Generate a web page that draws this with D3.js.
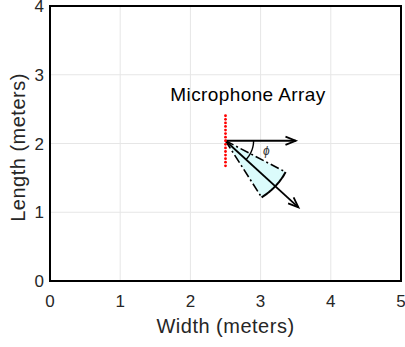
<!DOCTYPE html>
<html>
<head>
<meta charset="utf-8">
<script src="https://cdn.jsdelivr.net/npm/d3@7"></script>
<style>
  body { margin: 0; background: #fff; }
  text { font-family: "Liberation Sans", Arial, Helvetica, sans-serif; }
</style>
</head>
<body>
<svg id="chart" width="405" height="347"></svg>
<script>
// room / array data (meters, degrees)
var xTicks = [0, 1, 2, 3, 4, 5];
var yTicks = [0, 1, 2, 3, 4];
var arrayCenter = [2.5, 2.04];
var micCount = 15;
var micSpacing = 0.052;
var steerAngle = -43;     // degrees
var beamHalfWidth = 15;   // degrees
var beamRadius = 0.97;
var refArrowLength = 1.0;
var steerArrowLength = 1.42;
var phiArcRadius = 0.4;
var labelText = "Microphone Array";
var labelPos = [2.82, 2.62];

var svg = d3.select('#chart'),
    margin = {left: 50, right: 4, top: 6, bottom: 66},
    width = 405 - margin.left - margin.right,
    height = 347 - margin.top - margin.bottom;

var x = d3.scaleLinear().domain([0, 5]).range([0, width]);
var y = d3.scaleLinear().domain([0, 4]).range([height, 0]);

var main = svg.append('g')
    .attr('transform', 'translate(' + margin.left + ',' + margin.top + ')');

// grid
main.append('g').selectAll('line').data(xTicks.slice(1, -1)).enter().append('line')
    .attr('x1', x).attr('x2', x).attr('y1', 0).attr('y2', height)
    .attr('stroke', '#e6e6e6').attr('stroke-width', 1);
main.append('g').selectAll('line').data(yTicks.slice(1, -1)).enter().append('line')
    .attr('y1', y).attr('y2', y).attr('x1', 0).attr('x2', width)
    .attr('stroke', '#e6e6e6').attr('stroke-width', 1);

// tick labels
main.append('g').selectAll('text').data(xTicks).enter().append('text')
    .attr('x', x).attr('y', height + 26)
    .attr('text-anchor', 'middle')
    .attr('font-size', 17).attr('fill', '#262626')
    .text(function (d) { return d; });
main.append('g').selectAll('text').data(yTicks).enter().append('text')
    .attr('x', -6).attr('y', function (d) { return y(d) + 6; })
    .attr('text-anchor', 'end')
    .attr('font-size', 17).attr('fill', '#262626')
    .text(function (d) { return d; });

// axis labels
main.append('text')
    .attr('x', width / 2).attr('y', height + 52)
    .attr('text-anchor', 'middle').attr('font-size', 20).attr('fill', '#262626')
    .attr('letter-spacing', 0.5)
    .text('Width (meters)');
main.append('text')
    .attr('transform', 'translate(-25,' + (height / 2 + 4) + ') rotate(-90)')
    .attr('text-anchor', 'middle').attr('font-size', 20).attr('fill', '#262626')
    .attr('letter-spacing', 0.5)
    .text('Length (meters)');

// helpers
function polar(r, deg) {
    var a = deg * Math.PI / 180;
    return [arrayCenter[0] + r * Math.cos(a), arrayCenter[1] + r * Math.sin(a)];
}
var line = d3.line().x(function (d) { return x(d[0]); }).y(function (d) { return y(d[1]); });

function arcPoints(r, a0, a1) {
    return d3.range(0, 41).map(function (i) { return polar(r, a0 + (a1 - a0) * i / 40); });
}

function arrow(tip, from) {
    var px = x(tip[0]), py = y(tip[1]),
        ang = Math.atan2(py - y(from[1]), px - x(from[0])),
        len = 11, spread = 0.38;
    return 'M' + (px - len * Math.cos(ang - spread)) + ',' + (py - len * Math.sin(ang - spread)) +
        'L' + px + ',' + py +
        'L' + (px - len * Math.cos(ang + spread)) + ',' + (py - len * Math.sin(ang + spread));
}

// beam cone
var a0 = steerAngle - beamHalfWidth, a1 = steerAngle + beamHalfWidth;
var cone = [arrayCenter].concat(arcPoints(beamRadius, a0, a1)).concat([arrayCenter]);
main.append('path').attr('d', line(cone) + 'Z')
    .attr('fill', '#dbfbfb').attr('stroke', 'none');
[a0, a1].forEach(function (a) {
    main.append('path').attr('d', line([arrayCenter, polar(beamRadius, a)]))
        .attr('stroke', '#000').attr('stroke-width', 1.6)
        .attr('stroke-dasharray', '9,3,2,3').attr('fill', 'none');
});
main.append('path').attr('d', line(arcPoints(beamRadius, a0, a1)))
    .attr('stroke', '#000').attr('stroke-width', 2).attr('fill', 'none');

// reference (broadside) arrow
var refTip = polar(refArrowLength, 0);
main.append('path').attr('d', line([arrayCenter, refTip]))
    .attr('stroke', '#000').attr('stroke-width', 1.8).attr('fill', 'none');
main.append('path').attr('d', arrow(refTip, arrayCenter))
    .attr('stroke', '#000').attr('stroke-width', 1.8).attr('fill', 'none');

// steering arrow
var steerTip = polar(steerArrowLength, steerAngle);
main.append('path').attr('d', line([arrayCenter, steerTip]))
    .attr('stroke', '#000').attr('stroke-width', 1.8).attr('fill', 'none');
main.append('path').attr('d', arrow(steerTip, arrayCenter))
    .attr('stroke', '#000').attr('stroke-width', 1.8).attr('fill', 'none');

// phi arc + label
main.append('path').attr('d', line(arcPoints(phiArcRadius, 0, steerAngle)))
    .attr('stroke', '#000').attr('stroke-width', 1.4).attr('fill', 'none');
var phiPos = polar(0.6, steerAngle / 2 + 7);
main.append('text')
    .attr('x', x(phiPos[0])).attr('y', y(phiPos[1]) + 4)
    .attr('text-anchor', 'middle').attr('font-size', 12)
    .attr('font-style', 'italic').attr('fill', '#333')
    .attr('font-family', '"DejaVu Serif", serif')
    .text('\u03D5');

// microphones
var mics = d3.range(micCount).map(function (i) {
    return [arrayCenter[0], arrayCenter[1] + (i - (micCount - 1) / 2) * micSpacing];
});
main.append('g').selectAll('circle').data(mics).enter().append('circle')
    .attr('cx', function (d) { return x(d[0]); })
    .attr('cy', function (d) { return y(d[1]); })
    .attr('r', 1.4).attr('fill', '#ff0000');

// title label
main.append('text')
    .attr('x', x(labelPos[0])).attr('y', y(labelPos[1]))
    .attr('text-anchor', 'middle').attr('font-size', 19).attr('fill', '#000')
    .attr('letter-spacing', 0.4)
    .text(labelText);

// box
main.append('rect').attr('x', 0).attr('y', 0).attr('width', width).attr('height', height)
    .attr('fill', 'none').attr('stroke', '#000').attr('stroke-width', 2);
</script>
</body>
</html>
